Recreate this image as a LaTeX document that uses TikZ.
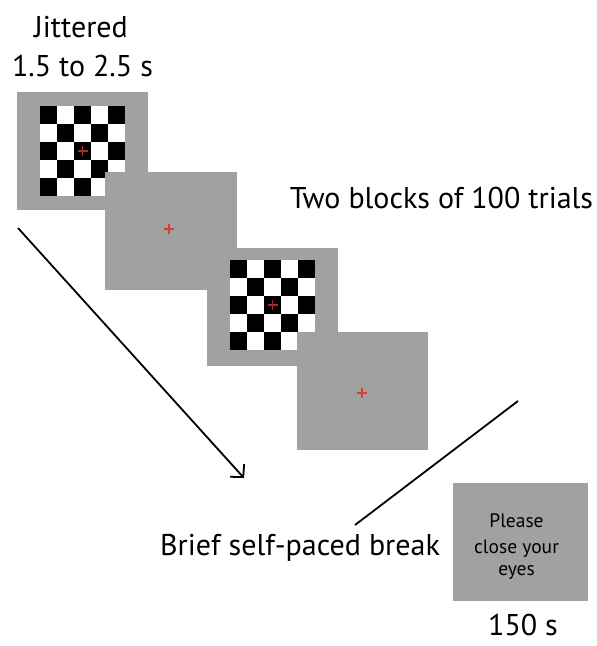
\documentclass[tikz,border=0pt]{standalone}
\usepackage{fontspec}
\setmainfont{PT Sans}
\usetikzlibrary{arrows.meta}
\definecolor{scr}{RGB}{161,161,161}
\definecolor{fixred}{RGB}{210,65,40}
\begin{document}
\begin{tikzpicture}[x=1pt,y=-1pt,
  screen/.style={fill=scr,draw=none,inner sep=0pt,minimum width=#1,minimum height=118pt},
  screen/.default=131pt,
  big/.style={font=\fontsize{30}{36}\selectfont,inner sep=0pt,anchor=base},
  small/.style={font=\fontsize{19.5}{25}\selectfont,inner sep=0pt,anchor=base},
  conn/.style={line width=1.8pt,black}]
\useasboundingbox (0,0) rectangle (597,646);
\newcommand{\checkerb}[2]{%
  \fill[white] (#1,#2) rectangle ++(85,90);
  \foreach \i in {0,...,4}{\foreach \j in {0,...,4}{%
    \ifodd\numexpr\i+\j\relax\else
      \fill[black] ({#1+17*\i},{#2+18*\j}) rectangle ++(17,18);
    \fi}}}
\newcommand{\fixcross}[3]{%
  \draw[draw=#3,line width=1.1pt] ({#1-5},#2) -- ({#1+5},#2) ({#1},{#2-5}) -- ({#1},{#2+5});}
% text
\node[big] (jit) at (81,37) {Jittered};
\node[big] (dur) at (82.5,76) {1.5 to 2.5 s};
\node[big] (blocks) at (441.5,208) {Two blocks of 100 trials};
% screens
\node[screen] (s1) at (82.5,151) {};
\checkerb{40}{106}
\fixcross{82.5}{151}{fixred!75!black}
\node[screen=132pt] (s2) at (171,231) {};
\fixcross{169}{229}{fixred}
\node[screen] (s3) at (272.5,306.5) {};
\checkerb{230}{260}
\fixcross{272.5}{305}{fixred!75!black}
\node[screen] (s4) at (362.5,390.5) {};
\fixcross{362}{393}{fixred}
\node[screen=135pt] (s5) at (520.5,541.5) {};
\node[small] (please) at (516.5,527) {Please};
\node[small] (close) at (516.5,553) {close your};
\node[small] (eyes) at (516.5,575) {eyes};
\node[big] (t150) at (523,635) {150 s};
\node[big] (brk) at (300,555) {Brief self-paced break};
% connectors
\coordinate (a1) at (18,228);
\coordinate (a2) at (244,478);
\coordinate (b1) at (518,401);
\coordinate (b2) at (355,525);
\draw[conn,-{Straight Barb[length=9pt,width=19pt,line width=1.8pt]}] (a1) -- (a2);
\draw[conn] (b1) -- (b2);
\end{tikzpicture}
\end{document}
